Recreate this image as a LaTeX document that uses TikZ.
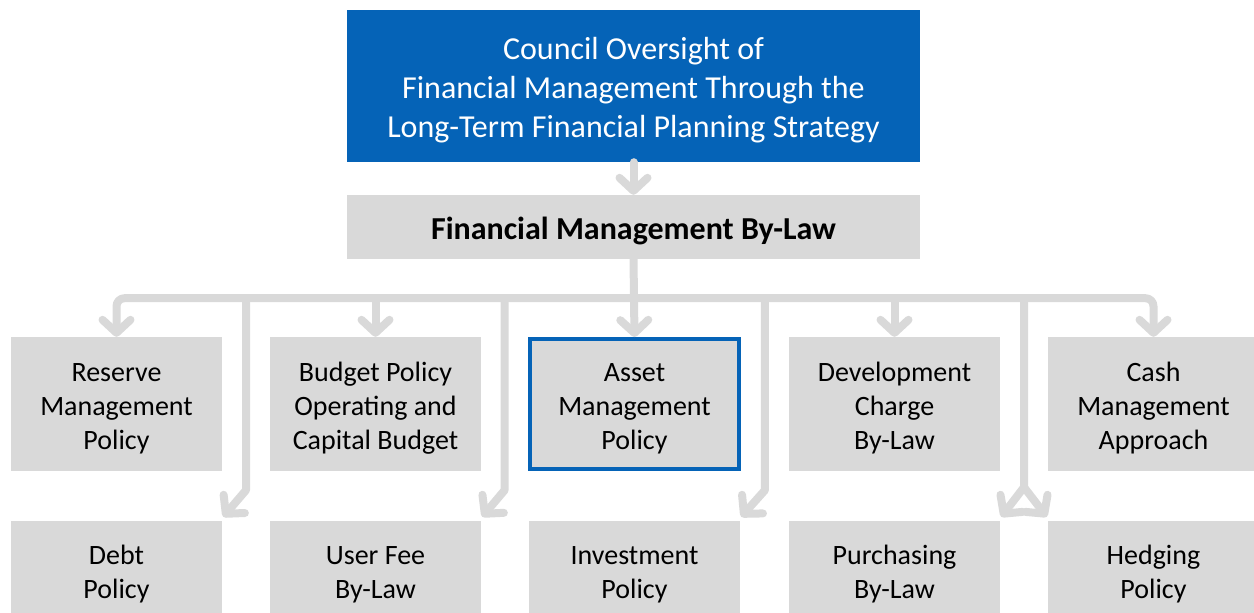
\documentclass[tikz,border=0pt]{standalone}
\usepackage{fontspec}
\setmainfont{Carlito}
\usetikzlibrary{arrows.meta,calc}
\definecolor{cblue}{RGB}{5,99,183}
\definecolor{cgray}{RGB}{217,217,217}
\newcommand\tstr[1]{\rule{0pt}{#1}}
\begin{document}
\begin{tikzpicture}[x=1pt,y=-1pt,
 box/.style={fill=cgray, draw=none, minimum width=211pt, align=center, inner sep=0pt, text=black, font=\fontsize{28}{34}\selectfont},
 toprow/.style={box, minimum height=134pt},
 botrow/.style={box, minimum height=100pt},
 conn/.style={draw=cgray, line width=8pt, line cap=round, line join=round},
 tip/.style={-{Straight Barb[length=13pt,width=28pt,round]}},
 dtip/.style={{Straight Barb[length=13pt,width=28pt,round]}-{Straight Barb[length=13pt,width=28pt,round]}},
]
\useasboundingbox (0,0) rectangle (1254,613);

\node[fill=cblue, text=white, minimum width=573pt, minimum height=152pt, inner sep=0pt, align=center, font=\fontsize{32}{39}\selectfont] (top) at (633.5,86) {\tstr{30.5pt}Council Oversight of\\Financial Management Through the\\Long-Term Financial Planning Strategy};
\node[box, minimum width=573pt, minimum height=64pt, font=\bfseries\fontsize{32}{39}\selectfont] (fm) at (633.5,227) {\tstr{30.5pt}Financial Management By-Law};

\node[toprow] (r1) at (116.5,404) {\tstr{27.5pt}Reserve\\Management\\Policy};
\node[toprow] (r2) at (375.5,404) {\tstr{27.5pt}Budget Policy\\Operating and\\Capital Budget};
\node[toprow, draw=cblue, line width=4pt, minimum width=209pt, minimum height=130pt] (r3) at (634.5,404) {\tstr{27.5pt}Asset\\Management\\Policy};
\node[toprow] (r4) at (894.5,404) {\tstr{27.5pt}Development\\Charge\\By-Law};
\node[toprow] (r5) at (1153.5,404) {\tstr{27.5pt}Cash\\Management\\Approach};

\node[botrow] (d1) at (116.5,571) {\tstr{25.5pt}Debt\\Policy};
\node[botrow] (d2) at (375.5,571) {\tstr{25.5pt}User Fee\\By-Law};
\node[botrow] (d3) at (634.5,571) {\tstr{25.5pt}Investment\\Policy};
\node[botrow] (d4) at (894.5,571) {\tstr{25.5pt}Purchasing\\By-Law};
\node[botrow] (d5) at (1153.5,571) {\tstr{25.5pt}Hedging\\Policy};

\coordinate (bus) at ($(fm.south)+(0,39)$);
\coordinate (g1) at ($(r1.east)!0.5!(r2.west)$);
\coordinate (g2) at ($(r2.east)!0.5!(r3.west)$);
\coordinate (g3) at ($(r3.east)!0.5!(r4.west)$);
\coordinate (g4) at ($(r4.east)!0.5!(r5.west)$);

\draw[conn,tip] (top.south) -- (fm.north);
\draw[conn,dtip,rounded corners=8pt] (r1.north) |- (bus) -| (r5.north);
\draw[conn,tip] (fm.south) -- (r3.north);
\draw[conn,tip] (bus -| r2.north) -- (r2.north);
\draw[conn,tip] (bus -| r4.north) -- (r4.north);

\draw[conn,tip] (g1 |- bus) -- ($(g1 |- bus)+(0,192)$) -- ($(d1.north east)+(1,-4)$);
\draw[conn,tip] (g2 |- bus) -- ($(g2 |- bus)+(0,192)$) -- ($(d2.north east)+(1,-4)$);
\draw[conn,tip] (g3 |- bus) -- ($(g3 |- bus)+(0,192)$) -- ($(d3.north east)+(1,-4)$);
\coordinate (split) at ($(g4 |- bus)+(0,189)$);
\draw[conn,tip] (g4 |- bus) -- (split) -- ($(d4.north east)+(1,-4)$);
\draw[conn,tip] (split) -- ($(d5.north west)+(-1,-4)$);
\end{tikzpicture}
\end{document}
